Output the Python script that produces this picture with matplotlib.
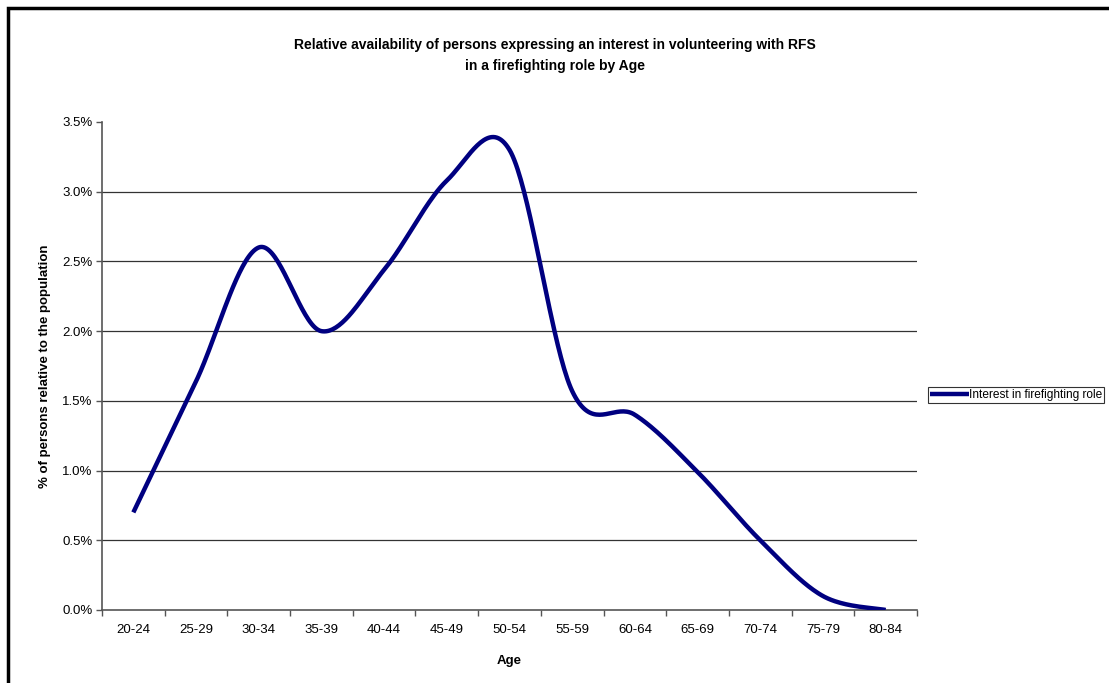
import numpy as np
import matplotlib
matplotlib.use("Agg")
import matplotlib.pyplot as plt
from matplotlib.patches import Rectangle
from matplotlib.ticker import FuncFormatter, MultipleLocator

plt.rcParams['font.family'] = ['Liberation Sans', 'DejaVu Sans']

age_groups = ["20-24", "25-29", "30-34", "35-39", "40-44", "45-49", "50-54",
              "55-59", "60-64", "65-69", "70-74", "75-79", "80-84"]
interest_pct = [0.70, 1.64, 2.60, 2.00, 2.44, 3.08, 3.30,
                1.57, 1.40, 0.99, 0.50, 0.10, 0.00]
series_name = "Interest in firefighting role"
title_lines = ["Relative availability of persons expressing an interest in volunteering with RFS",
               "in a firefighting role by Age"]


def smooth_curve(xs, ys, n=40):
    """Bezier smoothing through every point (Catmull-Rom style control points)."""
    xs = np.asarray(xs, float)
    ys = np.asarray(ys, float)
    px = np.concatenate([[xs[0]], xs, [xs[-1]]])
    py = np.concatenate([[ys[0]], ys, [ys[-1]]])
    out_x, out_y = [], []
    t = np.linspace(0, 1, n)
    for i in range(1, len(px) - 2):
        p0 = np.array([px[i], py[i]])
        p3 = np.array([px[i + 1], py[i + 1]])
        c1 = p0 + (np.array([px[i + 1], py[i + 1]]) - np.array([px[i - 1], py[i - 1]])) / 6
        c2 = p3 - (np.array([px[i + 2], py[i + 2]]) - np.array([px[i], py[i]])) / 6
        b = ((1 - t) ** 3)[:, None] * p0 + (3 * (1 - t) ** 2 * t)[:, None] * c1 \
            + (3 * (1 - t) * t ** 2)[:, None] * c2 + (t ** 3)[:, None] * p3
        out_x.extend(b[:, 0])
        out_y.extend(b[:, 1])
    return np.array(out_x), np.array(out_y)


fig = plt.figure(figsize=(11.09, 6.83), dpi=100)
W, H = 1109, 683
ax = fig.add_axes([102 / W, 1 - 610 / H, (917 - 102) / W, (610 - 122) / H])

x = np.arange(len(age_groups))
sx, sy = smooth_curve(x, interest_pct)
line, = ax.plot(sx, sy, color="#000080", lw=3.2, solid_capstyle="butt", zorder=3,
                label=series_name)

ax.set_xlim(-0.5, len(age_groups) - 0.5)
ax.set_ylim(0, 3.5)
ax.yaxis.set_major_locator(MultipleLocator(0.5))
ax.yaxis.set_major_formatter(FuncFormatter(lambda v, _: f"{v:.1f}%"))
ax.set_xticks(x)
ax.set_xticklabels(age_groups)
ax.set_xticks(np.arange(-0.5, len(age_groups)), minor=True)
ax.tick_params(axis="x", which="major", length=0, pad=10, labelsize=9.5)
ax.tick_params(axis="x", which="minor", length=4, color="#555555", width=1)
ax.tick_params(axis="y", length=4, color="#555555", width=1, labelsize=9.5, pad=3)

for v in np.arange(0.5, 3.01, 0.5):
    ax.axhline(v, color="#333333", lw=0.9, zorder=1)

for side in ("top", "right"):
    ax.spines[side].set_visible(False)
for side in ("left", "bottom"):
    ax.spines[side].set_color("#555555")
    ax.spines[side].set_linewidth(1.2)

ax.set_xlabel("Age", fontsize=9.5, fontweight="bold", labelpad=14)
ax.set_ylabel("% of persons relative to the population", fontsize=9.5,
              fontweight="bold", labelpad=8)

for text, ypix in zip(title_lines, (45, 66)):
    fig.text(555 / W, 1 - ypix / H, text, ha="center", va="center", fontsize=10,
             fontweight="bold")

leg = fig.legend(handles=[line], loc="center left", bbox_to_anchor=(928 / W, 1 - 395 / H),
                 fontsize=8.6, frameon=True, fancybox=False, edgecolor="#000000",
                 handlelength=3.2, handletextpad=0.0, borderpad=0.2, borderaxespad=0)
leg.get_frame().set_linewidth(0.8)

# outer chart frame
fig.patches.append(Rectangle((8 / W, -0.1), 1.2, 1 - 8 / H + 0.1, transform=fig.transFigure,
                             fill=False, edgecolor="black", lw=2.5, zorder=10))

fig.savefig("out.png", dpi=100, facecolor="white")
